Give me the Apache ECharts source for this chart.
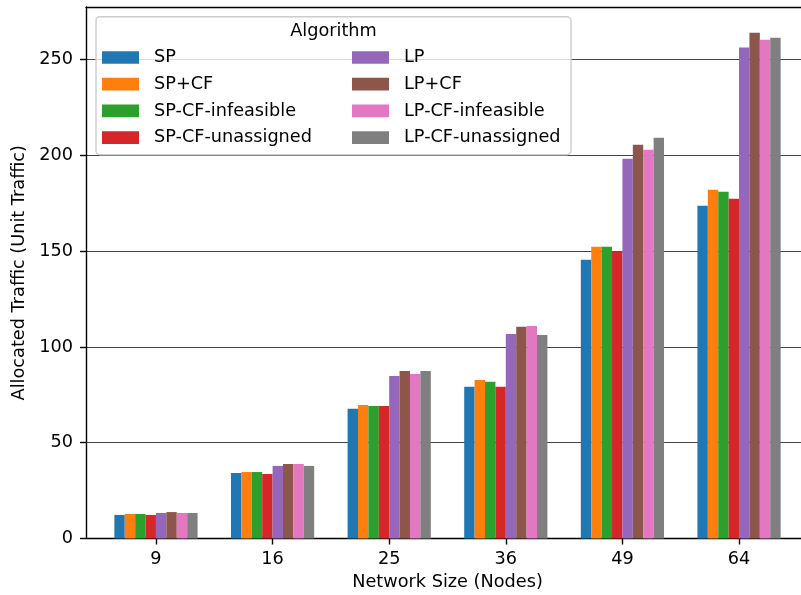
<!DOCTYPE html>
<html>
<head>
<meta charset="utf-8">
<script src="https://cdn.jsdelivr.net/npm/echarts@6/dist/echarts.min.js"></script>
<style>
html,body{margin:0;padding:0;background:#fff;}
#chart{width:801px;height:595px;}
</style>
</head>
<body>
<div id="chart"></div>
<script>
const categories = ['9', '16', '25', '36', '49', '64'];
const seriesNames = ['SP', 'SP+CF', 'SP-CF-infeasible', 'SP-CF-unassigned', 'LP', 'LP+CF', 'LP-CF-infeasible', 'LP-CF-unassigned'];
const SP = [12.3, 34.2, 67.7, 79.2, 145.5, 173.7];
const SP_CF = [12.8, 34.7, 69.7, 82.8, 152.3, 182.1];
const SP_CF_infeasible = [12.8, 34.7, 69.2, 81.8, 152.3, 181.0];
const SP_CF_unassigned = [12.3, 33.7, 69.2, 79.2, 150.0, 177.4];
const LP = [13.3, 37.9, 84.9, 106.8, 198.3, 256.3];
const LP_CF = [13.8, 38.9, 87.5, 110.5, 205.6, 264.1];
const LP_CF_infeasible = [13.3, 38.9, 85.9, 111.0, 203.0, 260.4];
const LP_CF_unassigned = [13.3, 37.9, 87.5, 106.3, 209.2, 261.5];
const yTicks = [0, 50, 100, 150, 200, 250];

const allValues = [SP, SP_CF, SP_CF_infeasible, SP_CF_unassigned, LP, LP_CF, LP_CF_infeasible, LP_CF_unassigned];
const colors = ['#1f77b4', '#ff7f0e', '#2ca02c', '#d62728', '#9467bd', '#8c564b', '#e377c2', '#7f7f7f'];
const FONT = 'DejaVu Sans';
const FS = 17.7;
const catIdx = categories.map((c, i) => i);

const chart = echarts.init(document.getElementById('chart'), null, {renderer: 'canvas'});

const series = seriesNames.map((name, k) => ({
  name: name,
  type: 'bar',
  xAxisIndex: 0,
  data: allValues[k].map((v, i) => [i, v]),
  barWidth: 10.4,
  barGap: '0%',
  itemStyle: {color: colors[k]},
  emphasis: {disabled: true},
  animation: false
}));

const legendCommon = {
  orient: 'vertical',
  padding: 0,
  itemWidth: 37,
  itemHeight: 12.7,
  itemGap: 6.7,
  icon: 'rect',
  z: 20,
  selectedMode: false,
  formatter: n => '{p|}' + n,
  textStyle: {
    fontFamily: FONT, fontSize: FS, color: '#000', lineHeight: 20,
    rich: {p: {width: 10, fontSize: FS, fontFamily: FONT}}
  }
};

chart.setOption({
  animation: false,
  color: colors,
  grid: {
    left: 86, right: -8, top: 7, bottom: 56.5,
    outerBoundsMode: 'none',
    containLabel: false,
    show: false
  },
  xAxis: [{
    type: 'value',
    position: 'bottom',
    min: -0.6, max: 5.6,
    name: 'Network Size (Nodes)',
    nameLocation: 'middle',
    nameGap: 32,
    nameTextStyle: {fontFamily: FONT, fontSize: FS, color: '#000'},
    axisLine: {show: true, onZero: false, lineStyle: {color: '#000', width: 1.4}},
    axisTick: {show: true, customValues: catIdx, length: 6, lineStyle: {color: '#000', width: 1.4}},
    axisLabel: {
      customValues: catIdx,
      margin: 12,
      fontFamily: FONT, fontSize: FS, color: '#000',
      formatter: v => categories[Math.round(v)]
    },
    splitLine: {show: false}
  }, {
    type: 'value',
    position: 'top',
    min: -0.6, max: 5.6,
    axisLine: {show: true, onZero: false, lineStyle: {color: '#000', width: 1.4}},
    axisTick: {show: false},
    axisLabel: {show: false},
    splitLine: {show: false}
  }],
  yAxis: {
    type: 'value',
    min: 0, max: 277.5,
    name: 'Allocated Traffic (Unit Traffic)',
    nameLocation: 'middle',
    nameGap: 52,
    nameTextStyle: {fontFamily: FONT, fontSize: FS, color: '#000'},
    axisLine: {show: true, onZero: false, lineStyle: {color: '#000', width: 1.4}},
    axisTick: {show: true, customValues: yTicks, length: 6, lineStyle: {color: '#000', width: 1.4}},
    axisLabel: {
      customValues: yTicks,
      margin: 13,
      fontFamily: FONT, fontSize: FS, color: '#000'
    },
    splitLine: {show: true, lineStyle: {color: '#444', width: 1.2}}
  },
  graphic: [
    {
      type: 'rect', z: 15,
      shape: {x: 96, y: 16.7, width: 475, height: 138, r: 4},
      style: {fill: 'rgba(255,255,255,0.8)', stroke: '#cccccc', lineWidth: 1.4}
    },
    {
      type: 'text', z: 16,
      x: 333.5, y: 31.5,
      style: {text: 'Algorithm', fontFamily: FONT, fontSize: FS, fill: '#000', align: 'center', verticalAlign: 'middle'}
    }
  ],
  legend: [
    Object.assign({}, legendCommon, {left: 102, top: 47.5, data: seriesNames.slice(0, 4)}),
    Object.assign({}, legendCommon, {left: 352, top: 47.5, data: seriesNames.slice(4)})
  ],
  series: series
});
</script>
</body>
</html>
